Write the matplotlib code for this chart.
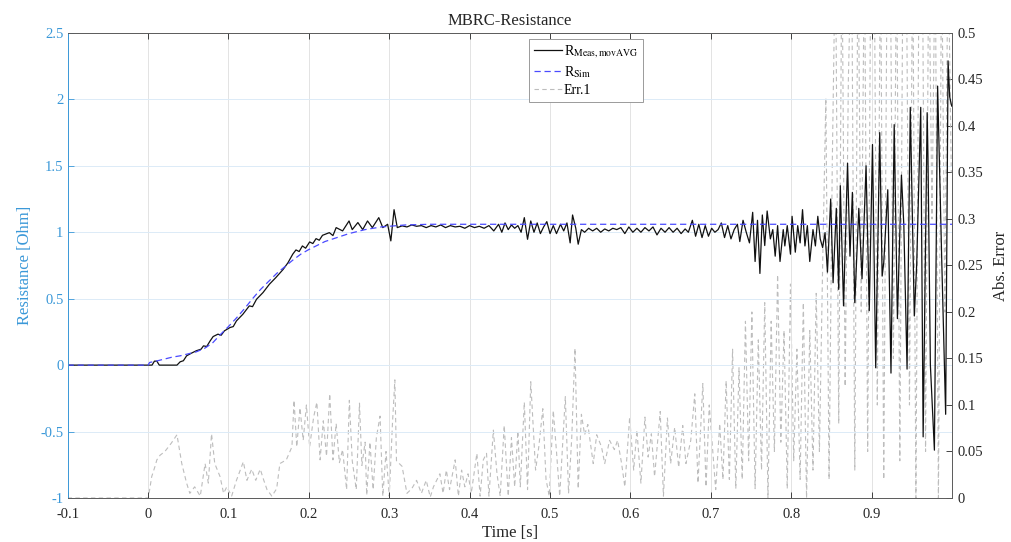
import matplotlib.pyplot as plt
from matplotlib.lines import Line2D

plt.rcParams['font.family'] = ['Liberation Serif', 'DejaVu Serif']
plt.rcParams['mathtext.fontset'] = 'stix'
plt.rcParams['axes.unicode_minus'] = False

# measured resistance (moving average), left axis
t_meas = [-0.1, 0.005, 0.008, 0.011, 0.014, 0.036, 0.040, 0.044, 0.048, 0.054,
          0.060, 0.066, 0.069, 0.073, 0.077, 0.081, 0.087, 0.091, 0.095, 0.102,
          0.106, 0.110, 0.118, 0.126, 0.130, 0.135, 0.143, 0.151, 0.159, 0.168,
          0.174, 0.180, 0.184, 0.188, 0.192, 0.196, 0.201, 0.205, 0.209, 0.213,
          0.217, 0.2255, 0.230, 0.234, 0.242, 0.250, 0.254, 0.261, 0.267, 0.273,
          0.279, 0.287, 0.292, 0.298, 0.302, 0.306, 0.310, 0.316,
          0.322, 0.328, 0.334, 0.340, 0.346, 0.352, 0.358, 0.364, 0.370, 0.376,
          0.382, 0.388, 0.394, 0.400, 0.406, 0.412, 0.418, 0.424,
          0.430, 0.436, 0.440, 0.444, 0.448, 0.452, 0.456, 0.460, 0.464,
          0.468, 0.472, 0.476, 0.480, 0.484, 0.488, 0.492, 0.496, 0.500, 0.504,
          0.508, 0.513, 0.517, 0.521, 0.525, 0.528, 0.532,
          0.535, 0.539, 0.543, 0.548, 0.553, 0.558, 0.563, 0.568, 0.573, 0.578,
          0.583, 0.588, 0.593, 0.598, 0.603, 0.608, 0.613, 0.618, 0.623, 0.628,
          0.633, 0.638, 0.643, 0.648, 0.653, 0.658, 0.663, 0.668, 0.672, 0.677,
          0.681, 0.685, 0.689, 0.693, 0.697, 0.701, 0.705, 0.709, 0.713, 0.717,
          0.721, 0.725, 0.729, 0.733, 0.736, 0.740, 0.744, 0.748, 0.752, 0.755,
          0.758, 0.761, 0.764, 0.767, 0.770, 0.774,
          0.777, 0.780, 0.783, 0.786, 0.790, 0.792, 0.795, 0.799, 0.801, 0.805,
          0.808, 0.811, 0.814, 0.817, 0.820, 0.823, 0.827, 0.830, 0.833, 0.836,
          0.839, 0.842, 0.845, 0.849, 0.852, 0.856, 0.859,
          0.861, 0.865, 0.870, 0.873, 0.876, 0.879, 0.884, 0.888, 0.893, 0.897,
          0.901, 0.905, 0.910, 0.913, 0.915, 0.920, 0.924, 0.928, 0.932, 0.937,
          0.940, 0.944, 0.948, 0.953, 0.956, 0.961, 0.964, 0.969, 0.970, 0.973,
          0.978, 0.982, 0.987, 0.992, 0.995, 0.997, 0.9995]
r_meas = [0, 0, 0.03, 0.03, 0, 0, 0.025, 0.033, 0.07, 0.09,
          0.108, 0.12, 0.145, 0.14, 0.18, 0.215, 0.233, 0.225, 0.258, 0.283,
          0.29, 0.333, 0.383, 0.446, 0.44, 0.496, 0.546, 0.609, 0.659, 0.72,
          0.77, 0.835, 0.867, 0.855, 0.897, 0.88, 0.927, 0.915, 0.952, 0.94,
          0.977, 0.997, 0.975, 1.035, 1.01, 1.085, 1.02, 1.073, 1.02, 1.085,
          1.035, 1.11, 1.035, 1.06, 0.935, 1.17, 1.035, 1.048,
          1.04, 1.055, 1.045, 1.05, 1.035, 1.05, 1.04, 1.055, 1.035, 1.05,
          1.04, 1.045, 1.03, 1.05, 1.035, 1.045, 1.03, 1.05,
          1.01, 1.06, 1.0, 1.07, 1.02, 1.055, 1.03, 1.05, 1.0,
          1.11, 0.947, 1.085, 1.0, 1.07, 0.99, 1.04, 1.08, 0.99, 1.05,
          0.99, 1.06, 1.01, 1.07, 0.92, 1.13, 1.03,
          0.91, 1.02, 1.0, 1.03, 1.01, 1.03, 1.0, 1.025, 1.01, 1.03,
          1.02, 1.035, 0.99, 1.04, 1.0, 1.03, 1.0, 1.035, 1.01, 1.04,
          0.98, 1.03, 1.0, 1.035, 1.0, 1.03, 0.99, 1.025, 1.0, 1.09,
          0.97, 1.06, 0.96, 1.05, 0.97, 1.03, 1.0, 1.02, 1.07, 0.96,
          1.05, 0.95, 1.02, 1.06, 0.93, 1.09, 1.0, 0.92, 1.15, 0.78,
          1.09, 0.69, 1.13, 0.9, 1.16, 0.95,
          1.02, 0.82, 1.05, 0.78, 1.02, 0.897, 1.05, 0.835, 1.12, 0.85,
          1.05, 0.92, 1.17, 0.897, 1.05, 0.78, 1.02, 0.897, 1.12, 0.95,
          0.885, 0.997, 0.70, 1.25, 0.62, 1.18, 0.57,
          1.35, 0.446, 1.52, 0.82, 1.30, 0.47, 1.18, 0.65, 1.50, 0.41,
          1.66, -0.02, 1.75, 0.67, 0.77, 1.32, -0.06, 1.81, 0.35, 1.43,
          1.05, -0.03, 1.94, 0.37, 0.76, 1.94, -0.54, 1.90, 1.57, 0.0,
          -0.64, 2.10, 0.82, -0.37, 2.29, 2.02, 1.95]

# simulated resistance, left axis
t_sim = [-0.1, 0.0, 0.002, 0.01, 0.02, 0.03, 0.04, 0.05, 0.06, 0.07, 0.08, 0.09,
         0.10, 0.11, 0.12, 0.13, 0.14, 0.15, 0.16, 0.17, 0.18, 0.19, 0.20, 0.21,
         0.22, 0.23, 0.24, 0.25, 0.26, 0.27, 0.28, 0.29, 0.30, 0.32, 0.35, 1.0]
r_sim = [0, 0, 0.02, 0.03, 0.045, 0.06, 0.07, 0.085, 0.1, 0.125, 0.165, 0.23,
         0.29, 0.355, 0.425, 0.5, 0.57, 0.63, 0.69, 0.74, 0.79, 0.835, 0.87, 0.9,
         0.93, 0.95, 0.97, 0.99, 1.005, 1.02, 1.03, 1.04, 1.045, 1.055, 1.06, 1.06]

# absolute error, right axis
t_err = [-0.1, 0.0, 0.0004, 0.0046, 0.0087, 0.011, 0.015, 0.021, 0.029, 0.036,
         0.042, 0.048, 0.052, 0.058, 0.065, 0.071, 0.075, 0.079, 0.083, 0.0896,
         0.094, 0.098, 0.104, 0.110, 0.1186, 0.123, 0.129, 0.134, 0.1396, 0.144,
         0.148, 0.154, 0.160, 0.164, 0.172, 0.179, 0.1816, 0.185, 0.189, 0.193,
         0.197, 0.201, 0.206, 0.210, 0.214, 0.218, 0.222, 0.226, 0.230, 0.234,
         0.238, 0.242, 0.247, 0.2504, 0.254, 0.259, 0.263, 0.266, 0.270, 0.272,
         0.276, 0.280, 0.284, 0.2886, 0.292, 0.296, 0.300, 0.304, 0.307, 0.309,
         0.316, 0.322, 0.328, 0.334, 0.340, 0.346, 0.351, 0.355, 0.363, 0.367,
         0.371, 0.375, 0.382, 0.386, 0.390, 0.394, 0.398, 0.402, 0.409, 0.413,
         0.417, 0.421, 0.424, 0.4295, 0.434, 0.438, 0.443, 0.448, 0.452, 0.456,
         0.460, 0.463, 0.468, 0.472, 0.476, 0.482, 0.486, 0.491, 0.495, 0.499,
         0.504, 0.508, 0.512, 0.519, 0.523, 0.527, 0.531, 0.535, 0.539, 0.543,
         0.547, 0.5537, 0.558, 0.564, 0.568, 0.574, 0.580, 0.584, 0.589, 0.593,
         0.599, 0.604, 0.608, 0.613, 0.618, 0.622, 0.626, 0.630, 0.637, 0.641,
         0.646, 0.650, 0.655, 0.660, 0.665, 0.669, 0.675, 0.680, 0.684, 0.690,
         0.694, 0.698, 0.702, 0.706, 0.711, 0.715, 0.719, 0.723,
         0.727, 0.731, 0.735, 0.739, 0.743, 0.747, 0.751, 0.755, 0.759, 0.763,
         0.767, 0.771, 0.775, 0.779, 0.783, 0.787, 0.791, 0.795, 0.799, 0.803,
         0.807, 0.811, 0.815, 0.819, 0.823, 0.827, 0.831, 0.835, 0.839, 0.843,
         0.847, 0.851, 0.855, 0.859, 0.863, 0.867, 0.871, 0.875, 0.879, 0.883,
         0.887, 0.891, 0.895, 0.899, 0.903, 0.907, 0.911, 0.915, 0.919, 0.923,
         0.927, 0.931, 0.935, 0.939, 0.943, 0.947, 0.951, 0.955, 0.959, 0.963,
         0.967, 0.971, 0.975, 0.979, 0.983, 0.987, 0.991, 0.995, 0.999]
e_err = [0, 0, 0, 0.023, 0.034, 0.041, 0.046, 0.05, 0.059, 0.068,
         0.037, 0.016, 0.005, 0.012, 0.002, 0.037, 0.016, 0.069, 0.037, 0.023,
         0.005, 0.012, 0.002, 0.019, 0.039, 0.019, 0.031, 0.019, 0.031, 0.019,
         0.009, 0.002, 0.01, 0.037, 0.041, 0.055, 0.105, 0.055, 0.097, 0.062,
         0.1, 0.055, 0.087, 0.103, 0.041, 0.083, 0.045, 0.112, 0.041, 0.08,
         0.038, 0.052, 0.009, 0.105, 0.04, 0.009, 0.102, 0.035, 0.06, 0.003,
         0.06, 0.009, 0.065, 0.088, 0.002, 0.05, 0.002, 0.08, 0.127, 0.04,
         0.034, 0.005, 0.01, 0.019, 0.005, 0.019, 0.001, 0.012, 0.026, 0.005,
         0.03, 0.009, 0.041, 0.002, 0.03, 0.012, 0.026, 0.005, 0.048, 0.002,
         0.041, 0.048, 0.002, 0.073, 0.026, 0.002, 0.078, 0.002, 0.065, 0.012,
         0.072, 0.012, 0.103, 0.009, 0.125, 0.03, 0.055, 0.096, 0.02, 0.002,
         0.094, 0.05, 0.002, 0.109, 0.005, 0.065, 0.161, 0.01, 0.09, 0.068,
         0.079, 0.037, 0.068, 0.055, 0.037, 0.062, 0.052, 0.062, 0.037, 0.012,
         0.087, 0.03, 0.073, 0.016, 0.087, 0.044, 0.069, 0.023, 0.093, 0.002,
         0.086, 0.037, 0.076, 0.033, 0.078, 0.037, 0.062, 0.112, 0.016, 0.123,
         0.012, 0.1, 0.055, 0.009, 0.08, 0.02, 0.126, 0.02,
         0.16, 0.01, 0.14, 0.02, 0.19, 0.04, 0.2, 0.01, 0.17, 0.03,
         0.21, 0.0, 0.19, 0.05, 0.24, 0.06, 0.18, 0.01, 0.23, 0.04,
         0.16, 0.02, 0.21, 0.0, 0.18, 0.03, 0.22, 0.05, 0.25, 0.43,
         0.02, 0.36, 0.6, 0.08, 0.6, 0.12, 0.45, 0.6, 0.03, 0.6,
         0.2, 0.6, 0.05, 0.6, 0.6, 0.1, 0.6, 0.02, 0.55, 0.6,
         0.15, 0.6, 0.04, 0.6, 0.6, 0.1, 0.6, 0.0, 0.6, 0.6,
         0.05, 0.6, 0.3, 0.6, 0.0, 0.6, 0.2, 0.6, 0.35]

x_ticks = [-0.1, 0, 0.1, 0.2, 0.3, 0.4, 0.5, 0.6, 0.7, 0.8, 0.9]
x_labels = ['-0.1', '0', '0.1', '0.2', '0.3', '0.4', '0.5', '0.6', '0.7', '0.8', '0.9']
yl_ticks = [-1, -0.5, 0, 0.5, 1, 1.5, 2, 2.5]
yl_labels = ['-1', '-0.5', '0', '0.5', '1', '1.5', '2', '2.5']
yr_ticks = [0, 0.05, 0.1, 0.15, 0.2, 0.25, 0.3, 0.35, 0.4, 0.45, 0.5]
yr_labels = ['0', '0.05', '0.1', '0.15', '0.2', '0.25', '0.3', '0.35', '0.4', '0.45', '0.5']

left_col = '#3a98d8'
dark = '#262626'

fig = plt.figure(figsize=(10.12, 5.42), dpi=100)
ax1 = fig.add_axes([0.0668, 0.0812, 0.874, 0.858])
ax2 = ax1.twinx()
ax1.set_zorder(2)
ax1.patch.set_visible(False)

ax2.plot(t_err, e_err, color='#bdbdbd', lw=0.8, ls=(0, (4, 3)))
ax1.plot(t_meas, r_meas, color='#111111', lw=0.9)
ax1.plot(t_sim, r_sim, color='#4a4aff', lw=0.9, ls=(0, (5, 3)))

ax1.set_xlim(-0.1, 1.0)
ax1.set_ylim(-1, 2.5)
ax2.set_ylim(0, 0.5)

ax1.set_xticks(x_ticks, x_labels)
ax1.set_yticks(yl_ticks, yl_labels)
ax2.set_yticks(yr_ticks, yr_labels)

ax1.grid(True, axis='x', color='#e3e3e3', lw=0.7)
ax1.grid(True, axis='y', color='#dcebf7', lw=0.7)

ax1.tick_params(axis='x', direction='in', top=True, length=4, width=0.6,
                colors=dark, labelsize=10.5, pad=7)
ax1.tick_params(axis='y', direction='in', length=4, width=0.6,
                colors=left_col, labelsize=10.5, pad=3)
ax2.tick_params(axis='y', direction='in', length=4, width=0.6,
                colors=dark, labelsize=10.5, pad=4)

for s in ['top', 'bottom']:
    ax1.spines[s].set_color('#5a5a5a')
    ax1.spines[s].set_linewidth(0.7)
ax1.spines['left'].set_color(left_col)
ax1.spines['left'].set_linewidth(0.7)
ax1.spines['right'].set_visible(False)
for s in ['top', 'bottom', 'left']:
    ax2.spines[s].set_visible(False)
ax2.spines['right'].set_color('#5a5a5a')
ax2.spines['right'].set_linewidth(0.7)

ax1.set_xlabel('Time [s]', fontsize=12, color=dark, labelpad=3)
ax1.set_ylabel('Resistance [Ohm]', fontsize=12, color=left_col, labelpad=5)
ax2.set_ylabel('Abs. Error', fontsize=12, color=dark, labelpad=7)
ax1.set_title('MBRC-Resistance', fontsize=12, color=dark, pad=6)

handles = [Line2D([], [], color='#111111', lw=0.9),
           Line2D([], [], color='#4a4aff', lw=0.9, ls=(0, (5, 3))),
           Line2D([], [], color='#bdbdbd', lw=0.8, ls=(0, (4, 3)))]
labels = [r'R$_{\rm Meas,movAVG}$', r'R$_{\rm Sim}$', 'Err.1']
leg = ax1.legend(handles, labels, loc='upper left', bbox_to_anchor=(0.522, 0.988),
                 fontsize=10, frameon=True, fancybox=False, edgecolor='#9a9a9a',
                 framealpha=1, handlelength=2.0, handletextpad=0.15,
                 labelspacing=0.3, borderpad=0.35, borderaxespad=0)
leg.get_frame().set_linewidth(0.7)

fig.savefig('out.png', dpi=100)
